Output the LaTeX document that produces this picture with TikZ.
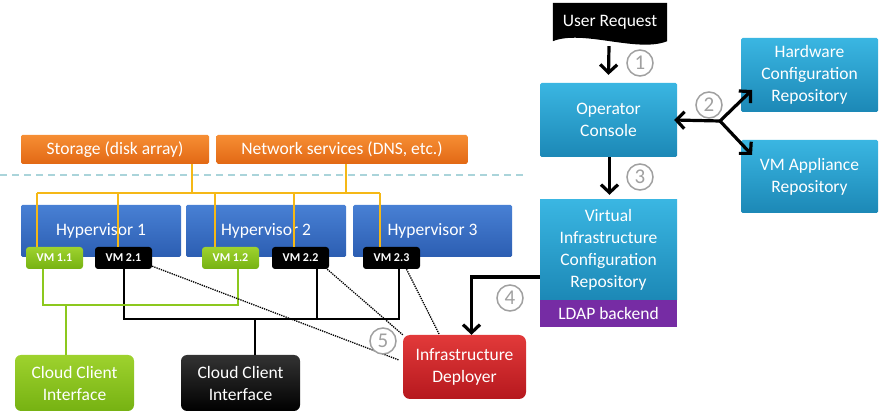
\documentclass[tikz,border=0pt]{standalone}
\usepackage{fontspec}
\setmainfont{Carlito}
\usetikzlibrary{arrows.meta,backgrounds}
\definecolor{cyantop}{RGB}{58,182,226}
\definecolor{cyanbot}{RGB}{28,136,182}
\definecolor{hyptop}{RGB}{72,128,212}
\definecolor{hypbot}{RGB}{44,94,178}
\definecolor{orangetop}{RGB}{246,142,52}
\definecolor{orangebot}{RGB}{226,104,20}
\definecolor{greentop}{RGB}{158,210,46}
\definecolor{greenbot}{RGB}{118,178,18}
\definecolor{redtop}{RGB}{226,58,58}
\definecolor{redbot}{RGB}{182,24,30}
\definecolor{ldappurple}{RGB}{118,44,164}
\definecolor{septeal}{RGB}{170,212,218}
\definecolor{busyellow}{RGB}{245,184,22}
\definecolor{vmgreen}{RGB}{140,200,30}
\definecolor{circgray}{RGB}{160,160,160}

\begin{document}
\begin{tikzpicture}[x=1pt,y=-1pt,
  box/.style={rectangle,rounded corners=1.5pt,text=white,align=center,inner sep=0pt,font=\fontsize{17.5}{22}\selectfont},
  cyanbox/.style={box,top color=cyantop,bottom color=cyanbot,minimum width=137pt},
  hypbox/.style={box,top color=hyptop,bottom color=hypbot,minimum width=160pt,minimum height=52pt},
  svcbox/.style={box,top color=orangetop,bottom color=orangebot,minimum height=29pt},
  vmbox/.style={box,rounded corners=3pt,minimum width=57pt,minimum height=22pt,font=\fontsize{12}{12}\selectfont\bfseries},
  ccbox/.style={box,rounded corners=6pt,minimum width=119pt,minimum height=56pt},
  circ/.style={circle,draw=circgray,line width=1.5pt,fill=white,text=circgray,minimum size=26pt,inner sep=0pt,font=\fontsize{21}{21}\selectfont},
  flow/.style={line width=3.2pt,-{Straight Barb[length=8pt,width=17pt]}},
  bus/.style={busyellow,line width=1.6pt},
  gline/.style={vmgreen,line width=2pt},
  kline/.style={black,line width=2pt},
  dotline/.style={densely dotted,line width=1.3pt}]
\useasboundingbox (0,0) rectangle (892,419);

\node[svcbox,minimum width=188pt] (storage) at (115,149.5) {Storage (disk array)};
\node[svcbox,minimum width=251pt] (netsvc) at (342,149.5) {Network services (DNS, etc.)};
\draw [septeal,line width=2pt,dash pattern=on 7pt off 5pt] (0,175)--(525,175);

\node[hypbox] (hyp1) at (101,231) {Hypervisor 1};
\node[hypbox] (hyp2) at (266,231) {Hypervisor 2};
\node[hypbox,minimum width=159pt] (hyp3) at (432.5,231) {Hypervisor 3};

\coordinate (busL) at (37,193);
\coordinate (busR) at (380,193);
\coordinate (gbus) at (0,305);
\coordinate (kbus) at (0,319);
\draw [bus] (busL)--(busR);
\draw [bus] ([xshift=77pt]storage.south)--([xshift=77pt]storage.south |- busL);
\draw [bus] ([xshift=4pt]netsvc.south)--([xshift=4pt]netsvc.south |- busL);

\node[vmbox,top color=greentop,bottom color=greenbot] (vm11) at (54.5,258) {VM 1.1};
\node[vmbox,fill=black] (vm21) at (123.5,258) {VM 2.1};
\node[vmbox,top color=greentop,bottom color=greenbot] (vm12) at (230.5,258) {VM 1.2};
\node[vmbox,fill=black] (vm22) at (300.5,258) {VM 2.2};
\node[vmbox,fill=black] (vm23) at (391.5,258) {VM 2.3};
\foreach \v/\d in {vm11/-17.5,vm21/-5.5,vm12/-15.5,vm22/-6.5,vm23/-11.5}
  \draw [bus] ([xshift=\d pt]\v.north)--([xshift=\d pt]\v.north |- busL);

\node[ccbox,top color=greentop,bottom color=greenbot] (ccgreen) at (74.5,383) {Cloud Client\\Interface};
\node[ccbox,top color=black!80,bottom color=black] (ccblack) at (240.5,383) {Cloud Client\\Interface};
\node[box,rounded corners=7pt,top color=redtop,bottom color=redbot,minimum width=123pt,minimum height=64pt] (deploy) at (464.5,367) {Infrastructure\\Deployer};

\draw [kline] (vm21.south) |- ([xshift=7.5pt]vm23.south |- kbus)--([xshift=7.5pt]vm23.south);
\draw [kline] ([xshift=16.5pt]vm22.south)--([xshift=16.5pt]vm22.south |- kbus);
\draw [kline] ([xshift=14.5pt]ccblack.north)--([xshift=14.5pt]ccblack.north |- kbus);
\draw [gline] ([xshift=-11.5pt]vm11.south) |- ([xshift=7.5pt]vm12.south |- gbus)--([xshift=7.5pt]vm12.south);
\draw [gline] ([xshift=-8.5pt]ccgreen.north)--([xshift=-8.5pt]ccgreen.north |- gbus);

\draw [dotline] ([yshift=3pt]vm21.south east)--([xshift=-4pt,yshift=7pt]deploy.west);
\draw [dotline] ([xshift=-2pt]vm22.south east)--(deploy.north west);
\draw [dotline] ([xshift=15pt]vm23.south)--([xshift=-25pt]deploy.north);

\node[box,minimum width=114pt,minimum height=38pt] (req) at (610,22) {User Request};
\begin{scope}[on background layer]
\fill [black] (req.south east)--(req.north east)--(req.north west)--(req.south west) .. controls +(30,-12) and +(-30,12) .. (req.south east);
\end{scope}
\node[cyanbox,minimum height=74pt] (opcon) at (608.5,120) {Operator\\Console};
\node[cyanbox,minimum height=100pt,rounded corners=0pt] (vicr) at (608.5,250) {Virtual\\Infrastructure\\Configuration\\Repository};
\node[box,fill=ldappurple,minimum width=137pt,minimum height=27pt,rounded corners=0pt] (ldap) at (608.5,313.5) {LDAP backend};
\node[cyanbox,minimum height=74pt] (hwcr) at (809.5,75) {Hardware\\Configuration\\Repository};
\node[cyanbox,minimum height=73pt] (vmar) at (809.5,176.5) {VM Appliance\\Repository};

\coordinate (j) at (720,121);
\coordinate (hwtip) at (752,90);
\coordinate (vmtip) at (752,155);
\draw [flow] ([xshift=-1pt,yshift=-5pt]req.south)--([yshift=8pt]opcon.north);
\draw [flow] ([xshift=1pt]opcon.south)--([xshift=1pt,yshift=5pt]vicr.north);
\draw [flow] (j)--([xshift=-3pt]opcon.east);
\draw [flow] (j)--(hwtip);
\draw [flow] (j)--(vmtip);
\draw [flow] ([yshift=-27pt]vicr.west) -| ([xshift=7pt]deploy.north);

\node[circ] (c1) at (640,63) {1};
\node[circ] (c2) at (709,105) {2};
\node[circ] (c3) at (640,177) {3};
\node[circ] (c4) at (510,298) {4};
\node[circ] (c5) at (383,341) {5};
\end{tikzpicture}
\end{document}
